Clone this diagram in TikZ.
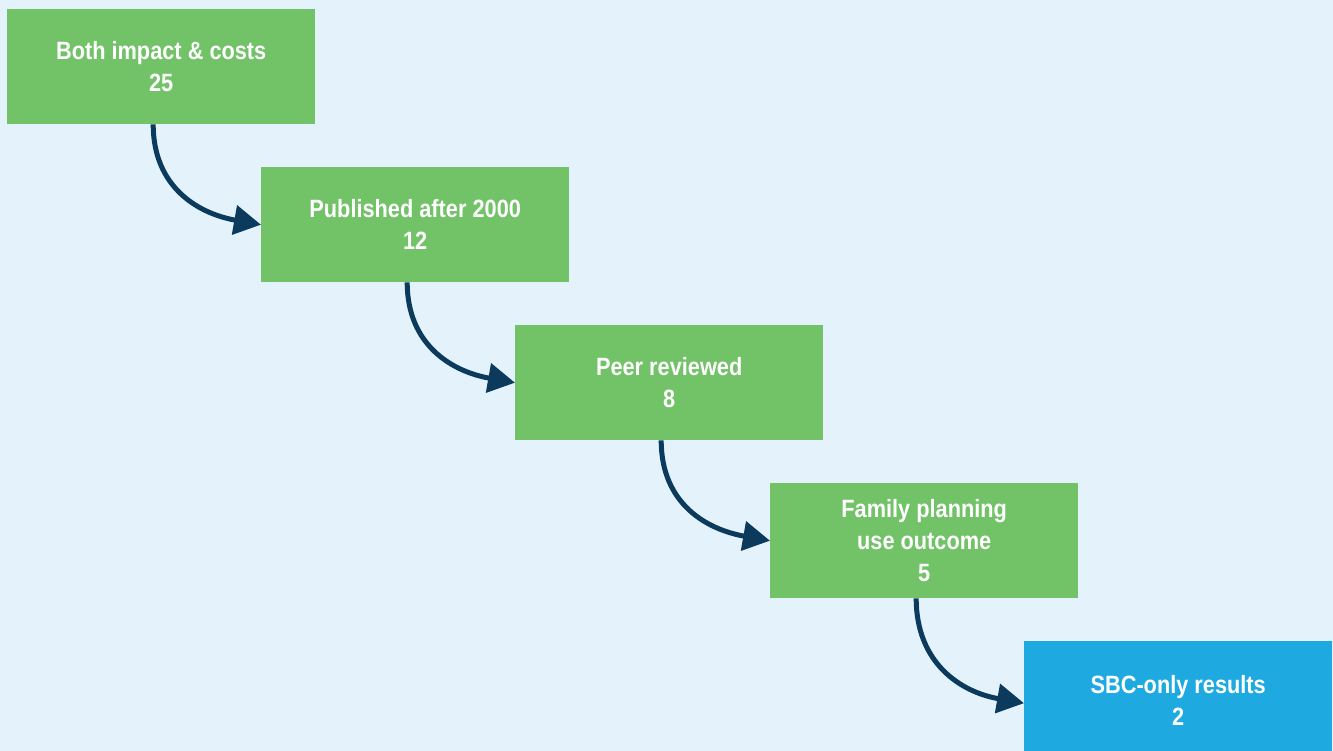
\documentclass[tikz,border=0pt]{standalone}
\usepackage{fontspec}
\setmainfont{Liberation Sans}[FakeStretch=0.87]
\usetikzlibrary{arrows.meta}
\definecolor{bgblue}{HTML}{E4F3FB}
\definecolor{stepgreen}{HTML}{72C268}
\definecolor{stepblue}{HTML}{1EAAE1}
\definecolor{arrownavy}{HTML}{0B3A5C}
\tikzset{
  stage/.style={fill=stepgreen, text=white, font=\bfseries\fontsize{25}{32}\selectfont,
    minimum width=308pt, minimum height=115pt, align=center, inner sep=0pt, anchor=north west},
  flow/.style={draw=arrownavy, line width=5pt, -{Triangle[length=27pt,width=29pt]}}
}
\begin{document}
\begin{tikzpicture}[x=1pt, y=-1pt]
          \fill[bgblue] (0,0) rectangle (1333,751);
          \useasboundingbox (0,0) rectangle (1333,751);
          \begin{scope}
          \clip (0,0) rectangle (1333,751);
          \node [stage] (both) at (7,9) {Both impact \& costs\\25};
          \node [stage] (pub) at (261,167) {Published after 2000\\12};
          \node [stage] (peer) at (515,325) {Peer reviewed\\8};
          \node [stage] (fp) at (770,483) {Family planning\\use outcome\\5};
          \node [stage, fill=stepblue, minimum height=118pt] (sbc) at (1024,641) {SBC-only results\\2};
          \draw [flow] ([xshift=-8pt]both.south) to[out=-90, in=170, looseness=1.1] (pub.west);
          \draw [flow] ([xshift=-8pt]pub.south) to[out=-90, in=170, looseness=1.1] (peer.west);
          \draw [flow] ([xshift=-8pt]peer.south) to[out=-90, in=170, looseness=1.1] (fp.west);
          \draw [flow] ([xshift=-8pt]fp.south) to[out=-90, in=170, looseness=1.1] ([yshift=-3pt]sbc.west);
          \end{scope}
        \end{tikzpicture}
\end{document}
